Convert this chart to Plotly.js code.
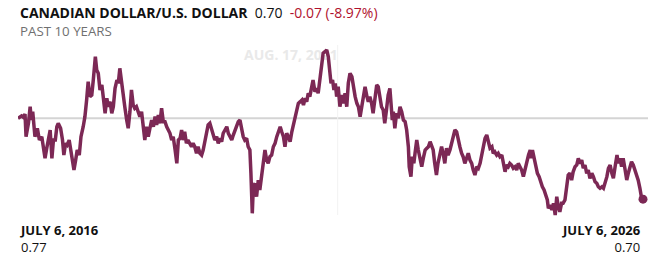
<!DOCTYPE html>
<html>
<head>
<meta charset="utf-8">
<script src="https://cdn.plot.ly/plotly-3.0.1.min.js"></script>
<style>html,body{margin:0;padding:0;background:#fff;}#chart{width:661px;height:262px;}</style>
</head>
<body>
<div id="chart"></div>
<script>
const pairName = "CANADIAN DOLLAR/U.S. DOLLAR";
const lastText = "0.70";
const changeText = "-0.07 (-8.97%)";
const periodText = "PAST 10 YEARS";
const startLabel = "JULY 6, 2016";
const startValueText = "0.77";
const endLabel = "JULY 6, 2026";
const endValueText = "0.70";
const hoverDate = "2021-08-17";
const hoverLabel = "AUG. 17, 2021";

const dates = [
"2016-07-06","2016-07-27","2016-08-06","2016-08-16","2016-08-22","2016-09-05","2016-09-15","2016-09-22","2016-09-30","2016-10-13",
"2016-10-27","2016-11-08","2016-11-22","2016-12-01","2016-12-11","2016-12-21","2016-12-30","2017-01-10","2017-01-20","2017-01-29",
"2017-02-09","2017-02-18","2017-02-26","2017-03-12","2017-03-23","2017-03-31","2017-04-10","2017-04-19","2017-05-01","2017-05-09",
"2017-05-21","2017-05-29","2017-06-08","2017-06-17","2017-06-29","2017-07-09","2017-07-22","2017-08-01","2017-08-11","2017-08-20",
"2017-08-30","2017-09-10","2017-09-19","2017-10-01","2017-10-09","2017-10-18","2017-10-28","2017-11-08","2017-11-17","2017-11-27",
"2017-12-07","2017-12-16","2017-12-26","2018-01-05","2018-01-14","2018-01-24","2018-02-04","2018-02-12","2018-02-21","2018-03-03",
"2018-03-12","2018-03-22","2018-04-02","2018-04-11","2018-04-21","2018-04-30","2018-05-10","2018-05-19","2018-05-29","2018-06-08",
"2018-06-18","2018-06-28","2018-07-07","2018-07-17","2018-07-27","2018-08-06","2018-08-16","2018-08-26","2018-09-05","2018-09-15",
"2018-09-24","2018-10-04","2018-10-13","2018-10-23","2018-11-02","2018-11-12","2018-11-22","2018-12-01","2018-12-11","2018-12-21",
"2018-12-30","2019-01-10","2019-01-20","2019-01-29","2019-02-08","2019-02-17","2019-02-26","2019-03-07","2019-03-17","2019-03-26",
"2019-04-06","2019-04-16","2019-04-25","2019-05-05","2019-05-15","2019-05-24","2019-06-04","2019-06-14","2019-06-23","2019-07-03",
"2019-07-13","2019-07-22","2019-08-01","2019-08-11","2019-08-20","2019-08-30","2019-09-10","2019-09-19","2019-09-29","2019-10-09",
"2019-10-18","2019-10-28","2019-11-08","2019-11-17","2019-11-27","2019-12-07","2019-12-16","2019-12-26","2020-01-05","2020-01-14",
"2020-01-24","2020-02-04","2020-02-12","2020-02-21","2020-03-03","2020-03-12","2020-03-22","2020-03-28","2020-04-02","2020-04-05",
"2020-04-11","2020-04-21","2020-04-30","2020-05-10","2020-05-19","2020-05-29","2020-06-08","2020-06-18","2020-06-28","2020-07-07",
"2020-07-17","2020-07-27","2020-08-06","2020-08-16","2020-08-26","2020-09-05","2020-09-15","2020-09-24","2020-10-04","2020-10-13",
"2020-10-23","2020-11-02","2020-11-12","2020-11-22","2020-12-01","2020-12-11","2020-12-21","2020-12-30","2021-01-10","2021-01-20",
"2021-01-29","2021-02-08","2021-02-17","2021-02-26","2021-03-07","2021-03-17","2021-03-26","2021-04-06","2021-04-16","2021-04-25",
"2021-05-05","2021-05-15","2021-05-24","2021-06-04","2021-06-14","2021-06-23","2021-07-03","2021-07-09","2021-07-18","2021-07-26",
"2021-08-03","2021-08-11","2021-08-20","2021-08-30","2021-09-10","2021-09-19","2021-09-29","2021-10-09","2021-10-18","2021-10-28",
"2021-11-08","2021-11-17","2021-11-27","2021-12-07","2021-12-16","2021-12-26","2022-01-05","2022-01-14","2022-01-24","2022-02-04",
"2022-02-12","2022-02-21","2022-03-03","2022-03-12","2022-03-22","2022-04-02","2022-04-11","2022-04-21","2022-04-30","2022-05-10",
"2022-05-19","2022-05-29","2022-06-08","2022-06-18","2022-06-24","2022-07-02","2022-07-08","2022-07-17","2022-07-27","2022-08-06",
"2022-08-16","2022-08-26","2022-09-05","2022-09-15","2022-09-24","2022-10-04","2022-10-09","2022-10-19","2022-10-27","2022-11-05",
"2022-11-12","2022-11-22","2022-12-01","2022-12-11","2022-12-21","2022-12-30","2023-01-10","2023-01-20","2023-01-29","2023-02-08",
"2023-02-17","2023-02-26","2023-03-07","2023-03-17","2023-03-26","2023-04-06","2023-04-16","2023-04-25","2023-05-05","2023-05-15",
"2023-05-24","2023-06-04","2023-06-14","2023-06-23","2023-07-03","2023-07-13","2023-07-22","2023-08-01","2023-08-11","2023-08-20",
"2023-08-30","2023-09-10","2023-09-19","2023-09-29","2023-10-09","2023-10-18","2023-10-28","2023-11-08","2023-11-17","2023-11-27",
"2023-12-07","2023-12-16","2023-12-26","2024-01-05","2024-01-14","2024-01-24","2024-02-04","2024-02-12","2024-02-21","2024-03-03",
"2024-03-12","2024-03-22","2024-04-02","2024-04-11","2024-04-21","2024-04-30","2024-05-10","2024-05-19","2024-05-29","2024-06-08",
"2024-06-18","2024-06-28","2024-07-07","2024-07-17","2024-07-27","2024-08-06","2024-08-16","2024-08-26","2024-09-05","2024-09-15",
"2024-09-20","2024-09-28","2024-10-08","2024-10-19","2024-10-27","2024-11-06","2024-11-16","2024-11-25","2024-12-05","2024-12-15",
"2024-12-24","2024-12-30","2025-01-10","2025-01-20","2025-01-29","2025-02-08","2025-02-17","2025-02-26","2025-03-07","2025-03-17",
"2025-03-26","2025-04-06","2025-04-16","2025-04-25","2025-05-05","2025-05-15","2025-05-24","2025-06-04","2025-06-14","2025-06-23",
"2025-07-03","2025-07-13","2025-07-22","2025-08-01","2025-08-11","2025-08-20","2025-08-30","2025-09-10","2025-09-19","2025-09-29",
"2025-10-09","2025-10-18","2025-10-28","2025-11-08","2025-11-17","2025-11-27","2025-12-07","2025-12-16","2025-12-26","2026-01-05",
"2026-01-14","2026-01-24","2026-02-04","2026-02-12","2026-02-21","2026-03-03","2026-03-12","2026-03-22","2026-04-02","2026-04-11",
"2026-04-21","2026-04-30","2026-05-10","2026-05-19","2026-05-29","2026-06-08","2026-06-18","2026-06-28","2026-07-06"
];

const rates = [
0.7700,0.7720,0.7709,0.7737,0.7543,0.7657,0.7799,0.7685,0.7756,0.7543,
0.7615,0.7514,0.7543,0.7429,0.7358,0.7444,0.7514,0.7600,0.7358,0.7514,
0.7514,0.7628,0.7657,0.7615,0.7514,0.7386,0.7486,0.7472,0.7514,0.7429,
0.7343,0.7258,0.7343,0.7429,0.7386,0.7543,0.7628,0.7714,0.7856,0.8013,
0.7885,0.7899,0.8027,0.8227,0.8113,0.8085,0.7942,0.7985,0.7871,0.7743,
0.7871,0.7799,0.7842,0.7743,0.7799,0.7956,0.8027,0.7999,0.8127,0.7999,
0.7885,0.7799,0.7685,0.7615,0.7756,0.7942,0.7814,0.7785,0.7799,0.7756,
0.7714,0.7756,0.7600,0.7514,0.7628,0.7543,0.7615,0.7685,0.7628,0.7714,
0.7643,0.7728,0.7657,0.7786,0.7671,0.7671,0.7628,0.7600,0.7572,0.7514,
0.7543,0.7429,0.7315,0.7514,0.7529,0.7600,0.7514,0.7585,0.7486,0.7514,
0.7486,0.7457,0.7486,0.7457,0.7401,0.7457,0.7401,0.7386,0.7429,0.7514,
0.7600,0.7643,0.7657,0.7615,0.7572,0.7514,0.7543,0.7486,0.7529,0.7500,
0.7572,0.7600,0.7628,0.7572,0.7543,0.7514,0.7557,0.7600,0.7628,0.7671,
0.7685,0.7600,0.7543,0.7514,0.7529,0.7457,0.7429,0.7230,0.7059,0.6888,
0.7115,0.7144,0.7030,0.7172,0.7087,0.7201,0.7286,0.7429,0.7343,0.7315,
0.7372,0.7386,0.7457,0.7486,0.7543,0.7600,0.7628,0.7585,0.7543,0.7457,
0.7572,0.7543,0.7500,0.7585,0.7643,0.7685,0.7771,0.7828,0.7842,0.7856,
0.7814,0.7871,0.7842,0.7914,0.7885,0.7970,0.8027,0.7927,0.7956,0.7914,
0.8056,0.8198,0.8256,0.8269,0.8284,0.8227,0.8113,0.7999,0.8027,0.7942,
0.7999,0.7885,0.7970,0.7799,0.7899,0.7828,0.7914,0.7799,0.7999,0.8085,
0.8056,0.7970,0.7885,0.7828,0.7799,0.7714,0.7799,0.7871,0.7970,0.7885,
0.7842,0.7885,0.7828,0.7743,0.7871,0.7985,0.7970,0.7899,0.7799,0.7771,
0.7657,0.7771,0.7899,0.7956,0.7828,0.7685,0.7756,0.7615,0.7743,0.7700,
0.7799,0.7756,0.7685,0.7671,0.7600,0.7457,0.7286,0.7201,0.7372,0.7315,
0.7401,0.7514,0.7429,0.7343,0.7286,0.7358,0.7429,0.7444,0.7457,0.7500,
0.7472,0.7429,0.7315,0.7215,0.7315,0.7401,0.7457,0.7401,0.7315,0.7444,
0.7386,0.7429,0.7486,0.7557,0.7600,0.7585,0.7514,0.7457,0.7401,0.7372,
0.7315,0.7358,0.7401,0.7343,0.7315,0.7258,0.7215,0.7286,0.7273,0.7315,
0.7401,0.7457,0.7529,0.7557,0.7486,0.7444,0.7457,0.7401,0.7414,0.7386,
0.7401,0.7372,0.7386,0.7329,0.7243,0.7301,0.7286,0.7315,0.7301,0.7273,
0.7286,0.7258,0.7315,0.7286,0.7258,0.7201,0.7273,0.7343,0.7386,0.7429,
0.7358,0.7429,0.7358,0.7286,0.7230,0.7201,0.7144,0.7115,0.7087,0.7030,
0.7002,0.6931,0.6959,0.6916,0.6973,0.6873,0.7030,0.6944,0.6901,0.6973,
0.6973,0.7002,0.7144,0.7215,0.7230,0.7172,0.7243,0.7286,0.7301,0.7358,
0.7315,0.7343,0.7273,0.7301,0.7230,0.7258,0.7187,0.7230,0.7201,0.7158,
0.7144,0.7115,0.7102,0.7115,0.7102,0.7144,0.7201,0.7273,0.7301,0.7230,
0.7187,0.7286,0.7386,0.7315,0.7358,0.7286,0.7358,0.7273,0.7172,0.7230,
0.7286,0.7329,0.7301,0.7258,0.7230,0.7172,0.7102,0.7016,0.7009
];

const lineColor = "#7c2855";
const startDate = dates[0];
const endDate = dates[dates.length - 1];
const startRate = rates[0];
const lastIdx = rates.length - 1;

const hoverValue = 0.8232; // vertical anchor of the faded hover date label

const traces = [
  {
    type: "scatter", mode: "text",
    x: [hoverDate], y: [hoverValue],
    text: ["<b>" + hoverLabel + "</b>"],
    textposition: "middle left",
    textfont: {family: "Open Sans, sans-serif", size: 14, color: "#e9e9e9"},
    hoverinfo: "skip", showlegend: false, cliponaxis: false
  },
  {
    type: "scatter", mode: "lines",
    x: dates, y: rates,
    line: {color: lineColor, width: 3.5, shape: "linear"},
    hoverinfo: "skip", showlegend: false, cliponaxis: false
  },
  {
    type: "scatter", mode: "markers",
    x: [dates[lastIdx]], y: [rates[lastIdx]],
    marker: {color: lineColor, size: 9},
    hoverinfo: "skip", showlegend: false, cliponaxis: false
  }
];

const W = 661, H = 262;
const ml = 18, mr = 18, mt = 40, mb = 42;
const ph = H - mt - mb;
function py(pixelY) { return (H - mb - pixelY) / ph; }

const font = "Open Sans, sans-serif";

const layout = {
  width: W, height: H,
  margin: {l: ml, r: mr, t: mt, b: mb, pad: 0},
  paper_bgcolor: "#ffffff", plot_bgcolor: "#ffffff",
  showlegend: false,
  xaxis: {type: "date", range: [startDate, endDate], visible: false, fixedrange: true},
  yaxis: {range: [0.68308, 0.83692], visible: false, fixedrange: true},
  shapes: [
    {type: "line", layer: "below", xref: "paper", yref: "y", x0: 0, x1: 1.008, y0: startRate, y1: startRate,
     line: {color: "#d4d4d4", width: 2}},
    {type: "line", layer: "below", xref: "x", yref: "paper", x0: hoverDate, x1: hoverDate, y0: py(215), y1: py(45),
     line: {color: "#f2f2f2", width: 1}}
  ],
  annotations: [
    {xref: "paper", yref: "paper", x: 0, y: py(12), xanchor: "left", yanchor: "middle", showarrow: false,
     text: "<b>" + pairName + "</b>  " + lastText + "  <span style='color:#b0122e'>" + changeText + "</span>",
     font: {family: font, size: 14, color: "#111111"}},
    {xref: "paper", yref: "paper", x: 0, y: py(31), xanchor: "left", yanchor: "middle", showarrow: false,
     text: periodText, font: {family: font, size: 13.3, color: "#707070"}},
    {xref: "paper", yref: "paper", x: 0, y: py(238.5), xanchor: "left", yanchor: "middle", align: "left", showarrow: false,
     text: "<b>" + startLabel + "</b><br>" + startValueText, font: {family: font, size: 13, color: "#111111"}},
    {xref: "paper", yref: "paper", x: 1, y: py(238.5), xanchor: "right", yanchor: "middle", align: "right", showarrow: false,
     text: "<b>" + endLabel + "</b><br>" + endValueText, font: {family: font, size: 13, color: "#111111"}}
  ]
};

Plotly.newPlot("chart", traces, layout, {displayModeBar: false, staticPlot: true});
</script>
</body>
</html>
